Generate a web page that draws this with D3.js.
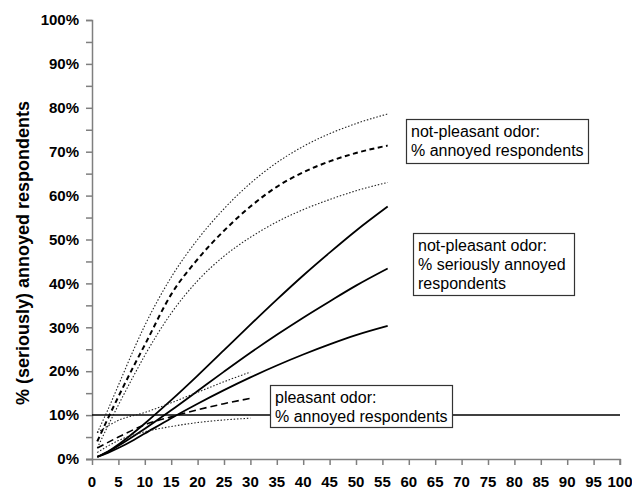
<!DOCTYPE html>
<html>
<head>
<meta charset="utf-8">
<script src="https://cdn.jsdelivr.net/npm/d3@7"></script>
<style>
    body { margin: 0; background: #fff; }
    svg { font-family: Arial, "Liberation Sans", sans-serif; }
</style>
</head>
<body>
<div id="chart"></div>
<script>
// odour concentration (x) for the not-pleasant curves
const xNotPleasant = [1, 3, 5, 8, 10, 15, 20, 25, 30, 35, 40, 45, 50, 56];
// not-pleasant odor, % annoyed (mean + confidence band)
const npAnnoyedHigh = [6, 11.2, 16.8, 25.2, 30.4, 41.4, 50, 57, 62.8, 67.5, 71.2, 74.1, 76.4, 78.6];
const npAnnoyed     = [4, 9.2, 14.2, 21.4, 26, 37.5, 45.5, 52, 57.5, 62, 65.3, 67.8, 69.7, 71.4];
const npAnnoyedLow  = [2.5, 7.5, 12.3, 19.2, 23.6, 33.2, 40.6, 46.2, 50.5, 54, 56.8, 59.1, 61.1, 63];
// not-pleasant odor, % seriously annoyed
const npSeriousHigh = [0.5, 1.7, 3.3, 6.1, 8.1, 13.4, 19, 24.8, 30.6, 36.3, 41.8, 47, 52, 57.5];
const npSerious     = [0.5, 1.6, 3, 5.3, 6.9, 11.1, 15.5, 19.9, 24.2, 28.3, 32.2, 35.9, 39.5, 43.4];
const npSeriousLow  = [0.5, 1.4, 2.5, 4.4, 5.8, 9.3, 12.6, 15.7, 18.6, 21.3, 23.8, 26.1, 28.2, 30.3];

// pleasant odor, % annoyed
const xPleasant = [1, 5, 10, 15, 20, 25, 30];
const plAnnoyedHigh = [6, 8.8, 10.6, 12.8, 15.2, 17.6, 19.8];
const plAnnoyed     = [2.5, 5, 7.8, 9.6, 11.2, 12.6, 13.8];
const plAnnoyedLow  = [1.5, 4.2, 6.2, 7.4, 8.3, 8.9, 9.3];

const referenceLevel = 10;

const xTicks = d3.range(0, 101, 5);
const yTicks = d3.range(0, 101, 10);
const yMinorTicks = d3.range(0, 101, 5);

const yTitle = "% (seriously) annoyed respondents";
const boxTexts = [
    ["not-pleasant odor:", "% annoyed respondents"],
    ["not-pleasant odor:", "% seriously annoyed", "respondents"],
    ["pleasant odor:", "% annoyed respondents"]
];

let width = 632, height = 489;
let margin = {left: 92, right: 12, top: 20, bottom: 30};

let svg = d3.select("#chart").append("svg")
    .attr("width", width)
    .attr("height", height);

let x = d3.scaleLinear().domain([0, 100]).range([margin.left, width - margin.right]);
let y = d3.scaleLinear().domain([0, 100]).range([height - margin.bottom, margin.top]);

let axisColor = "#7f7f7f";

// y axis
let yAxis = svg.append("g")
    .attr("transform", "translate(" + x(0) + ",0)")
    .call(d3.axisLeft(y).tickValues(yMinorTicks).tickSize(6).tickFormat(""));
yAxis.select(".domain").attr("stroke", axisColor).attr("stroke-width", 1.5);
yAxis.selectAll(".tick line").attr("stroke", axisColor).attr("stroke-width", 1.5);

svg.append("g").selectAll("text")
    .data(yTicks)
    .enter().append("text")
    .attr("x", x(0) - 13)
    .attr("y", (d) => y(d))
    .attr("dy", "0.35em")
    .attr("text-anchor", "end")
    .style("font-size", "15px")
    .style("font-weight", "bold")
    .text((d) => d + "%");

// x axis
let xAxis = svg.append("g")
    .attr("transform", "translate(0," + y(0) + ")")
    .call(d3.axisBottom(x).tickValues(xTicks).tickSize(6).tickFormat(""));
xAxis.select(".domain").attr("stroke", axisColor).attr("stroke-width", 1.5)
    .attr("d", "M" + (x(0) - 6) + ",0.5H" + x(100) + "V6");
xAxis.selectAll(".tick line").attr("stroke", axisColor).attr("stroke-width", 1.5);

svg.append("g").selectAll("text")
    .data(xTicks)
    .enter().append("text")
    .attr("x", (d) => x(d))
    .attr("y", y(0) + 28)
    .attr("text-anchor", "middle")
    .style("font-size", "15px")
    .style("font-weight", "bold")
    .text((d) => d);

// y title
svg.append("text")
    .attr("transform", "translate(29," + 253 + ") rotate(-90)")
    .attr("text-anchor", "middle")
    .style("font-size", "18px")
    .style("font-weight", "bold")
    .text(yTitle);

// 10% reference line
svg.append("line")
    .attr("x1", x(0)).attr("x2", x(100))
    .attr("y1", y(referenceLevel)).attr("y2", y(referenceLevel))
    .attr("stroke", "#000")
    .attr("stroke-width", 1.5);

let line = (xs) => d3.line()
    .x((d, i) => x(xs[i]))
    .y((d) => y(d))
    .curve(d3.curveMonotoneX);

let styles = {
    dotted: {width: 1.1, dash: "1.5,1.8", color: "#222"},
    dashed: {width: 2, dash: "5,3.5", color: "#000"},
    longdash: {width: 1.6, dash: "7,4", color: "#000"},
    solid: {width: 1.8, dash: null, color: "#000"}
};

let series = [
    {xs: xNotPleasant, values: npAnnoyedHigh, style: "dotted"},
    {xs: xNotPleasant, values: npAnnoyed, style: "dashed"},
    {xs: xNotPleasant, values: npAnnoyedLow, style: "dotted"},
    {xs: xNotPleasant, values: npSeriousHigh, style: "solid"},
    {xs: xNotPleasant, values: npSerious, style: "solid"},
    {xs: xNotPleasant, values: npSeriousLow, style: "solid"},
    {xs: xPleasant, values: plAnnoyedHigh, style: "dotted"},
    {xs: xPleasant, values: plAnnoyed, style: "longdash"},
    {xs: xPleasant, values: plAnnoyedLow, style: "dotted"}
];

svg.append("g").selectAll("path")
    .data(series)
    .enter().append("path")
    .attr("d", (s) => line(s.xs)(s.values))
    .attr("fill", "none")
    .attr("stroke", (s) => styles[s.style].color)
    .attr("stroke-width", (s) => styles[s.style].width)
    .attr("stroke-dasharray", (s) => styles[s.style].dash);

// text boxes
let boxes = [
    {x: 406, y: 119, w: 182, h: 44, lines: boxTexts[0]},
    {x: 413, y: 233, w: 161, h: 62, lines: boxTexts[1]},
    {x: 270, y: 385, w: 182, h: 42, lines: boxTexts[2]}
];

let box = svg.append("g").selectAll("g")
    .data(boxes)
    .enter().append("g")
    .attr("transform", (d) => "translate(" + d.x + "," + d.y + ")");

box.append("rect")
    .attr("x", 0.5).attr("y", 0.5)
    .attr("width", (d) => d.w)
    .attr("height", (d) => d.h)
    .attr("fill", "#fff")
    .attr("stroke", "#333")
    .attr("stroke-width", 1.2);

box.selectAll("text")
    .data((d) => d.lines)
    .enter().append("text")
    .attr("x", 5)
    .attr("y", (d, i) => 18 + i * 19)
    .style("font-size", "16px")
    .text((d) => d);
</script>
</body>
</html>
